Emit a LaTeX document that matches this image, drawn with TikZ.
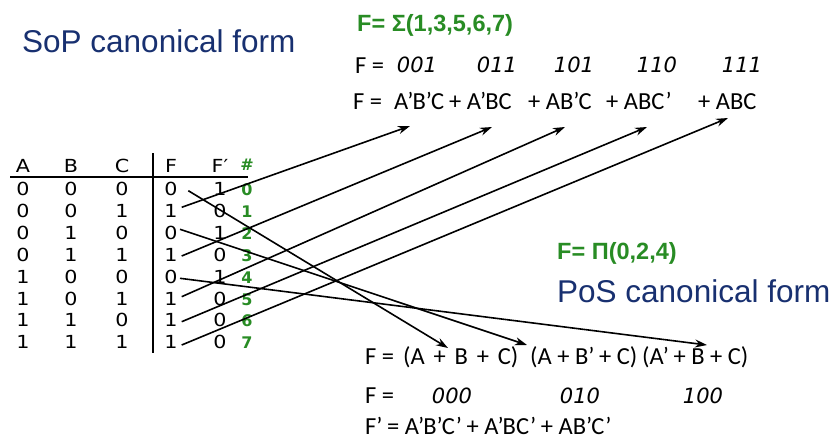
\documentclass[tikz,border=0pt]{standalone}
\usepackage{fontspec}
\usetikzlibrary{arrows.meta}
\newfontfamily\tabfont[FakeStretch=1.15]{DejaVu Sans}
\newfontfamily\bitfont{DejaVu Sans}
\newfontfamily\eqfont{Carlito}
\newfontfamily\ttlfont{Liberation Sans}
\definecolor{navy}{RGB}{24,48,112}
\definecolor{grn}{RGB}{40,140,36}
\newcommand{\pq}{’\kern-0.04em}
\newcommand{\gp}{\hspace{0.36em}}
\tikzset{
  cell/.style={inner sep=0pt, anchor=base, font=\tabfont\fontsize{18}{20}\selectfont},
  idx/.style={inner sep=0pt, anchor=base, text=grn, font=\bitfont\bfseries\fontsize{16}{18}\selectfont},
  title/.style={inner sep=0pt, anchor=base west, text=navy, font=\ttlfont\fontsize{31.5}{34}\selectfont},
  gtitle/.style={inner sep=0pt, anchor=base west, text=grn, font=\ttlfont\bfseries\fontsize{23.5}{26}\selectfont},
  eqn/.style={inner sep=0pt, anchor=base west, font=\eqfont\fontsize{24.5}{27}\selectfont},
  bits/.style={inner sep=0pt, anchor=base, font=\bitfont\itshape\fontsize{21}{23}\selectfont},
  conn/.style={line width=1.6pt, -{Stealth[length=12pt,width=8pt]}},
  rule/.style={line width=2pt}
}
\begin{document}
\begin{tikzpicture}[x=1pt,y=-1pt]
\useasboundingbox[fill=white] (0,0) rectangle (837,439);

% titles
\node[title] (sop) at (22,52) {SoP canonical form};
\node[title] (pos) at (557,302) {PoS canonical form};
\node[gtitle] (gsum) at (357,31) {F= Σ(1,3,5,6,7)};
\node[gtitle] (gprod) at (557,259) {F= Π(0,2,4)};

% table header
\foreach \x/\t/\n in {23/A/ha, 71/B/hb, 122/C/hc, 171/F/hf, 220/F′/hfp}
  \node[cell] (\n) at (\x,172.5) {\t};
\node[idx] (hidx) at (247,170) {\#};
\coordinate (hl1) at (10,177);
\coordinate (hl2) at (248,177);
\draw[rule] (hl1) -- (hl2);
\coordinate (vl1) at (152.7,153);
\coordinate (vl2) at (152.7,353);
\draw[rule] (vl1) -- (vl2);

% table rows
\foreach \a/\b/\c/\f/\fp [count=\i from 0] in
  {0/0/0/0/1, 0/0/1/1/0, 0/1/0/0/1, 0/1/1/1/0, 1/0/0/0/1, 1/0/1/1/0, 1/1/0/1/0, 1/1/1/1/0}{
  \pgfmathsetmacro{\yy}{189+21.9*\i+6.5}
  \node[cell] (a\i) at (23,\yy) {\a};
  \node[cell] (b\i) at (71,\yy) {\b};
  \node[cell] (c\i) at (122,\yy) {\c};
  \node[cell] (f\i) at (171,\yy) {\f};
  \node[cell] (g\i) at (220,\yy) {\fp};
  \node[idx] (n\i) at (247,\yy) {\i};
}

% SoP equations
\node[eqn] (sf1) at (355,73) {F =};
\foreach \x/\t/\n in {417/001/m1, 497/011/m3, 574/101/m5, 657/110/m6, 742/111/m7}
  \node[bits] (\n) at (\x,72) {\t};
\node[eqn] (sf2) at (353,109) {F =};
\node[eqn] (t1) at (394,109) {A\pq B\pq C};
\node[eqn] (t3) at (449,109) {+ A\pq BC};
\node[eqn] (t5) at (528,109) {+ AB\pq C};
\node[eqn] (t6) at (606,109) {+ ABC’};
\node[eqn] (t7) at (698,109) {+ ABC};

% PoS equations
\node[eqn] (pf1) at (365,364) {F =};
\node[eqn] (p0) at (403,364) {(A\gp+\gp B\gp+\gp C)};
\node[eqn] (p2) at (530,364) {(A + B\pq\ + C)};
\node[eqn] (p4) at (642,364) {(A\pq\ + B + C)};
\node[eqn] (pf2) at (365,403) {F =};
\foreach \x/\t/\n in {452/000/M0, 580/010/M2, 703/100/M4}
  \node[bits] (\n) at (\x,403) {\t};
\node[eqn] (pf3) at (365,434) {F\pq\ = A\pq B\pq C\pq\ + A\pq BC\pq\ + AB\pq C’};

% connector end points
\coordinate (s1) at (181.7,207.3);
\coordinate (s3) at (181.7,256);
\coordinate (s5) at (181.7,296.7);
\coordinate (s6) at (181.7,321.7);
\coordinate (s7) at (181.7,345);
\coordinate (e1) at (410,126);
\coordinate (e3) at (492,127);
\coordinate (e5) at (565,127);
\coordinate (e6) at (647,127);
\coordinate (e7) at (728,118);
\coordinate (s0) at (188.3,190.7);
\coordinate (s2) at (180,229.3);
\coordinate (s4) at (180,278.3);
\coordinate (e0) at (448,348);
\coordinate (e2) at (527,345);
\coordinate (e4) at (707,345);

\foreach \k in {1,3,5,6,7,0,2,4}
  \draw[conn] (s\k) -- (e\k);
\end{tikzpicture}
\end{document}
